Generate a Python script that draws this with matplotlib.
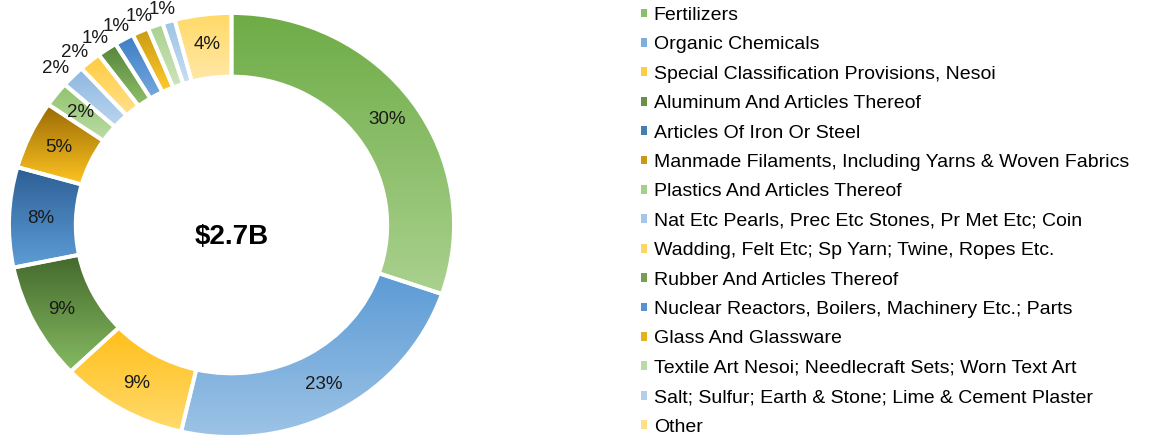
import numpy as np
import matplotlib
matplotlib.use("Agg")
import matplotlib.pyplot as plt
from matplotlib.colors import to_rgb
from matplotlib.patches import Patch

plt.rcParams['font.family'] = ['Liberation Sans', 'DejaVu Sans']

# ── data ──────────────────────────────────────────────────────────────────────
categories = [
    "Fertilizers",
    "Organic Chemicals",
    "Special Classification Provisions, Nesoi",
    "Aluminum And Articles Thereof",
    "Articles Of Iron Or Steel",
    "Manmade Filaments, Including Yarns & Woven Fabrics",
    "Plastics And Articles Thereof",
    "Nat Etc Pearls, Prec Etc Stones, Pr Met Etc; Coin",
    "Wadding, Felt Etc; Sp Yarn; Twine, Ropes Etc.",
    "Rubber And Articles Thereof",
    "Nuclear Reactors, Boilers, Machinery Etc.; Parts",
    "Glass And Glassware",
    "Textile Art Nesoi; Needlecraft Sets; Worn Text Art",
    "Salt; Sulfur; Earth & Stone; Lime & Cement Plaster",
    "Other",
]
shares = [30.2, 23.3, 9.2, 8.9, 7.6, 5.2, 1.9, 1.7, 1.6, 1.45, 1.4, 1.2, 1.1, 0.9, 4.1]
pct_labels = ["30%", "23%", "9%", "9%", "8%", "5%", "2%", "2%", "2%",
              "1%", "1%", "1%", "1%", "", "4%"]
outside = [False] * 7 + [True] * 7 + [False]
total_label = "$2.7B"

# gradient (top, bottom) per slice
grad_top = ["#6EAC46", "#5B9BD5", "#FFBF1A", "#44692C", "#2C5F94", "#9A6A05",
            "#90C26C", "#8DB6E0", "#FFCB3C", "#55843A", "#3C7DC4", "#C99A14",
            "#A9D18E", "#9DC3E6", "#FFD966"]
grad_bot = ["#AAD18F", "#9DC3E6", "#FFDA6C", "#86BB62", "#5E9DD8", "#FFC521",
            "#BCDDA6", "#BBD6EF", "#FFE08C", "#8FC069", "#76A8DD", "#FFCA2E",
            "#CDE5BD", "#C9DEF2", "#FFE8A8"]
legend_cols = ["#8BBF6A", "#7CAFDE", "#FFCD43", "#659247", "#447EB6", "#CC9713",
               "#A6CF89", "#A4C6E8", "#FFD564", "#729F51", "#5992D0", "#E4B221",
               "#BBDBA5", "#B3CDEC", "#FFE087"]

# ── figure ────────────────────────────────────────────────────────────────────
W, H = 1150, 440
fig = plt.figure(figsize=(W / 100, H / 100), dpi=100)
ax = fig.add_axes([9 / W, 3 / H, 445 / W, 424 / H])

RING = 0.3
LBL_FS = 13.5
wedges, _ = ax.pie(shares, startangle=90, counterclock=False,
                   wedgeprops=dict(width=RING, edgecolor="white", linewidth=2.8,
                                   facecolor="none"))

mids = []
for i, w in enumerate(wedges):
    w.set_facecolor("none")
    w.set_zorder(3)
    th = np.radians(np.linspace(w.theta1, w.theta2, 200))
    xs = np.concatenate([np.cos(th), (1 - RING) * np.cos(th)])
    ys = np.concatenate([np.sin(th), (1 - RING) * np.sin(th)])
    t = np.linspace(0, 1, 256)[:, None]
    c0, c1 = np.array(to_rgb(grad_top[i])), np.array(to_rgb(grad_bot[i]))
    img = (c0 * (1 - t) + c1 * t)[:, None, :]
    im = ax.imshow(img, extent=(xs.min(), xs.max(), ys.min(), ys.max()),
                   origin="upper", aspect="auto", zorder=2, interpolation="bilinear")
    im.set_clip_path(w)
    mids.append((w.theta1 + w.theta2) / 2)

# spread the small outside labels so they don't pile up (min 6 deg apart)
out_idx = [i for i in range(len(wedges)) if outside[i] and pct_labels[i]]
out_ang = np.array([mids[i] for i in out_idx])
order = np.argsort(out_ang)
step = 6.0
centre = out_ang.mean()
spread = centre + step * (np.arange(len(out_idx)) - (len(out_idx) - 1) / 2)
new_ang = dict(zip([out_idx[k] for k in order], spread))

# half text box (axes-normalised units) for outside-end placement
HALF_W, HALF_H, GAP = 0.05, 0.038, 0.025

for i in range(len(wedges)):
    if not pct_labels[i]:
        continue
    if outside[i]:
        a = np.radians(new_ang[i])
        d = min(HALF_W / max(abs(np.cos(a)), 1e-6), HALF_H / max(abs(np.sin(a)), 1e-6))
        r = 1 + GAP + d
    else:
        a, r = np.radians(mids[i]), 0.86
    ax.text(r * np.cos(a), r * np.sin(a), pct_labels[i],
            ha="center", va="center", fontsize=LBL_FS, color="#1a1a1a", zorder=4)

ax.text(0, -0.055, total_label, ha="center", va="center", fontsize=20,
        fontweight="bold", color="black")

ax.set_aspect("auto")
ax.set_xlim(-1, 1)
ax.set_ylim(-1, 1)
ax.axis("off")

handles = [Patch(facecolor=c, edgecolor="none") for c in legend_cols]
fig.legend(handles, categories, loc="upper left",
           bbox_to_anchor=(641 / W, 1 - 7 / H), frameon=False,
           fontsize=14, handlelength=0.32, handleheight=0.32,
           handletextpad=0.33, labelspacing=0.638, borderpad=0, borderaxespad=0)

fig.savefig("out.png", dpi=100)
